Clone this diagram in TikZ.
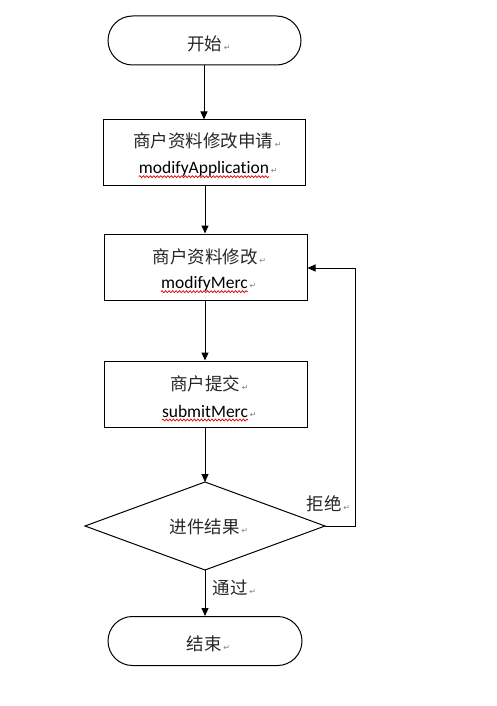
\documentclass[tikz,border=0pt]{standalone}
\usepackage{fontspec}
\setmainfont{Carlito}[Ligatures=NoCommon]
\newfontfamily\cjk{Noto Sans CJK SC}
\newfontfamily\dejavu{DejaVu Sans}
\usetikzlibrary{arrows.meta,decorations.pathmorphing}
\begin{document}
\begin{tikzpicture}[x=1pt,y=-1pt,
  lw/.style={line width=1pt},
  boxshape/.style={lw,draw,rectangle,minimum width=202pt,minimum height=65pt,inner sep=0pt},
  termshape/.style={lw,draw,rectangle,rounded corners=24.5pt,minimum width=193pt,minimum height=49pt,inner sep=0pt},
  cn/.style={inner sep=0pt,font=\cjk\fontsize{17.5}{20}\selectfont,text=black!85},
  en/.style={inner sep=0pt,font=\fontsize{17.5}{20}\selectfont,text=black},
  retmark/.style={inner sep=0pt,anchor=base west,xshift=1.5pt,font=\dejavu\fontsize{8}{8}\selectfont,text=black!50},
  wavy/.style={draw=red!85!black,line width=0.7pt,decorate,decoration={snake,amplitude=1pt,segment length=3.5pt}},
  arr/.style={lw,-{Triangle[length=8pt,width=7pt]}}]
\useasboundingbox (0,0) rectangle (496,706);
% start
\node[termshape] (start) at (204.5,40.5) {};
\node[cn] (starttxt) at (204.5,44) {开始};
\node[retmark] (startret) at (starttxt.base east) {↵};
% box 1
\node[boxshape] (b1) at (204,152.5) {};
\node[cn] (b1a) at (203,141) {商户资料修改申请};
\node[retmark] (b1ar) at (b1a.base east) {↵};
\node[en] (b1b) at (204,169) {modifyApplication};
\node[retmark] (b1br) at (b1b.base east) {↵};
\draw[wavy] ([yshift=-3pt]b1b.base west) -- ([yshift=-3pt]b1b.base east);
% box 2
\node[boxshape,minimum width=203pt,minimum height=66pt] (b2) at (205.5,267) {};
\node[cn] (b2a) at (205,257) {商户资料修改};
\node[retmark] (b2ar) at (b2a.base east) {↵};
\node[en] (b2b) at (204.5,284) {modifyMerc};
\node[retmark] (b2br) at (b2b.base east) {↵};
\draw[wavy] ([yshift=-3pt]b2b.base west) -- ([yshift=-3pt]b2b.base east);
% box 3
\node[boxshape,minimum width=203pt,minimum height=66pt] (b3) at (205.5,394) {};
\node[cn] (b3a) at (205,384) {商户提交};
\node[retmark] (b3ar) at (b3a.base east) {↵};
\node[en] (b3b) at (205,411) {submitMerc};
\node[retmark] (b3br) at (b3b.base east) {↵};
\draw[wavy] ([yshift=-3pt]b3b.base west) -- ([yshift=-3pt]b3b.base east);
% diamond
\coordinate (dtop) at (205,482);
\coordinate (dright) at (325,526);
\coordinate (dbottom) at (205,570);
\coordinate (dleft) at (85,526);
\draw[lw] (dtop) -- (dright) -- (dbottom) -- (dleft) -- cycle;
\node[cn] (dtxt) at (204.5,527) {进件结果};
\node[retmark] (dret) at (dtxt.base east) {↵};
% end
\node[termshape,minimum width=194pt,minimum height=49pt] (stop) at (205,641) {};
\node[cn] (stoptxt) at (204,644) {结束};
\node[retmark] (stopret) at (stoptxt.base east) {↵};
% connectors
\draw[arr] (start.south -| 204,0) -- (b1.north -| 204,0);
\draw[arr] (b1.south -| 205,0) -- (b2.north -| 205,0);
\draw[arr] (b2.south -| 205,0) -- (b3.north -| 205,0);
\draw[arr] (b3.south -| 205,0) -- (dtop);
\draw[arr] (dbottom) -- (stop.north -| 205,0);
\coordinate (loopa) at (355.5,526);
\coordinate (loopb) at (355.5,268);
\draw[arr] (dright) -- (loopa) -- (loopb) -- (b2.east |- loopb);
% labels
\node[cn] (rej) at (324,504) {拒绝};
\node[retmark] (rejret) at (rej.base east) {↵};
\node[cn] (pass) at (230,588) {通过};
\node[retmark] (passret) at (pass.base east) {↵};
\end{tikzpicture}
\end{document}
